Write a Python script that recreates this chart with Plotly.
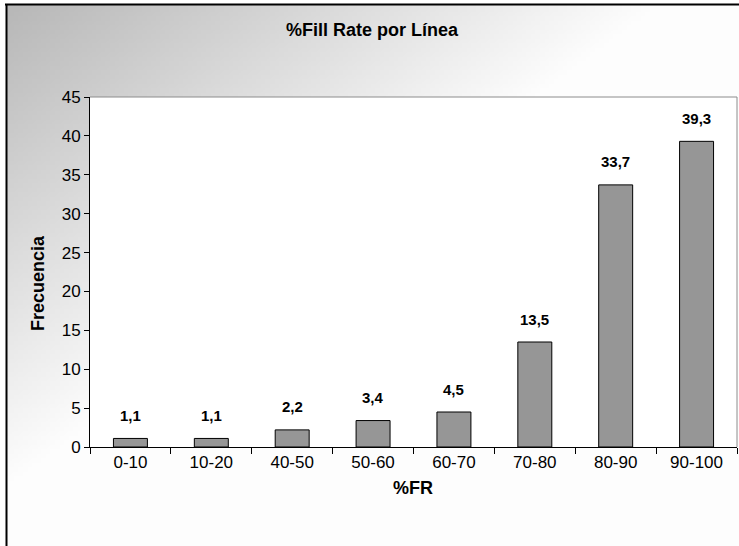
import base64
import struct
import zlib

import numpy as np
import plotly.graph_objects as go

# ---------------------------------------------------------------------------
# Data
# ---------------------------------------------------------------------------
categories = ["0-10", "10-20", "40-50", "50-60", "60-70", "70-80", "80-90", "90-100"]
frequency = [1.1, 1.1, 2.2, 3.4, 4.5, 13.5, 33.7, 39.3]
y_ticks = [0, 5, 10, 15, 20, 25, 30, 35, 40, 45]

TITLE = "%Fill Rate por Línea"
X_TITLE = "%FR"
Y_TITLE = "Frecuencia"

# ---------------------------------------------------------------------------
# Page geometry
# ---------------------------------------------------------------------------
W, H = 739, 546
M_L, M_R, M_T, M_B = 90, 2, 97, 99
FONT = "Liberation Sans, Arial, sans-serif"


def px_x(px):
    """Pixel column -> paper x."""
    return (px - M_L) / (W - M_L - M_R)


def px_y(py):
    """Pixel row -> paper y."""
    return (H - M_B - py) / (H - M_T - M_B)


def gradient_png(w=160, h=120, dark=184, light=253):
    """Small grey diagonal gradient (top-left dark, bottom-right white) as PNG."""
    xs = np.linspace(0, 1, w)
    ys = np.linspace(0, 1, h)
    t = np.clip((xs[None, :] + ys[:, None]) / 0.88, 0, 1)
    v = (dark + (light - dark) * t).astype(np.uint8)
    raw = b"".join(b"\x00" + row.tobytes() for row in v)

    def chunk(tag, data):
        c = tag + data
        return struct.pack(">I", len(data)) + c + struct.pack(">I", zlib.crc32(c) & 0xFFFFFFFF)

    png = (b"\x89PNG\r\n\x1a\n"
           + chunk(b"IHDR", struct.pack(">IIBBBBB", w, h, 8, 0, 0, 0, 0))
           + chunk(b"IDAT", zlib.compress(raw))
           + chunk(b"IEND", b""))
    return "data:image/png;base64," + base64.b64encode(png).decode()


fig = go.Figure()

fig.add_trace(go.Bar(
    x=categories,
    y=frequency,
    width=0.42,
    marker=dict(color="#969696", line=dict(color="#000000", width=1)),
    hoverinfo="x+y",
    showlegend=False,
))

# data labels, comma decimal like the original
annotations = []
for cat, val in zip(categories, frequency):
    annotations.append(dict(
        x=cat, y=val, xref="x", yref="y",
        text="<b>" + f"{val:.1f}".replace(".", ",") + "</b>",
        showarrow=False, xanchor="center", yanchor="middle", yshift=23,
        font=dict(family=FONT, size=15, color="#000000"),
    ))

annotations += [
    dict(text="<b>" + TITLE + "</b>", x=px_x(372), y=px_y(30),
         xref="paper", yref="paper", showarrow=False,
         xanchor="center", yanchor="middle",
         font=dict(family=FONT, size=18, color="#000000")),
    dict(text="<b>" + Y_TITLE + "</b>", x=px_x(38), y=px_y(283),
         xref="paper", yref="paper", showarrow=False, textangle=-90,
         xanchor="center", yanchor="middle",
         font=dict(family=FONT, size=18, color="#000000")),
    dict(text="<b>" + X_TITLE + "</b>", x=px_x(413), y=px_y(488),
         xref="paper", yref="paper", showarrow=False,
         xanchor="center", yanchor="middle",
         font=dict(family=FONT, size=18, color="#000000")),
]

shapes = [
    # white plot area over the gradient
    dict(type="rect", xref="paper", yref="paper", x0=0, x1=1, y0=0, y1=1,
         fillcolor="#ffffff", line=dict(width=0), layer="below"),
    # plot-area frame, top and right in grey
    dict(type="line", xref="paper", yref="paper", x0=0, x1=1, y0=1, y1=1,
         line=dict(color="#8c8c8c", width=1)),
    dict(type="line", xref="paper", yref="paper", x0=1, x1=1, y0=0, y1=1,
         line=dict(color="#8c8c8c", width=1)),
    # chart-area border, top and left in black
    dict(type="line", xref="paper", yref="paper", x0=px_x(5), x1=px_x(745),
         y0=px_y(4.5), y1=px_y(4.5), line=dict(color="#000000", width=2)),
    dict(type="line", xref="paper", yref="paper", x0=px_x(6.5), x1=px_x(6.5),
         y0=px_y(4), y1=px_y(560), line=dict(color="#000000", width=2)),
]

fig.update_layout(
    width=W, height=H,
    margin=dict(l=M_L, r=M_R, t=M_T, b=M_B, autoexpand=False),
    paper_bgcolor="#ffffff",
    plot_bgcolor="#ffffff",
    font=dict(family=FONT, size=17, color="#000000"),
    bargap=0.5,
    images=[dict(
        source=gradient_png(),
        xref="paper", yref="paper",
        x=px_x(7), y=px_y(5),
        sizex=px_x(739) - px_x(7), sizey=px_y(5) - px_y(546),
        xanchor="left", yanchor="top",
        sizing="stretch", layer="below",
    )],
    xaxis=dict(
        range=[-0.5, len(categories) - 0.5],
        showline=True, linecolor="#000000", linewidth=1,
        ticks="outside", ticklen=6, tickcolor="#000000", tickson="boundaries",
        showgrid=False, zeroline=False,
        tickfont=dict(family=FONT, size=17, color="#000000"),
    ),
    yaxis=dict(
        range=[0, 45], tickvals=y_ticks,
        showline=True, linecolor="#000000", linewidth=1,
        ticks="outside", ticklen=5, tickcolor="#000000",
        showgrid=False, zeroline=False,
        tickfont=dict(family=FONT, size=17, color="#000000"),
    ),
    annotations=annotations,
    shapes=shapes,
)

# page body has a default margin; drop it so the figure sits at the corner
fig.write_html(
    "out.html",
    config={"displayModeBar": False},
    post_script="document.body.style.margin='0';",
)
